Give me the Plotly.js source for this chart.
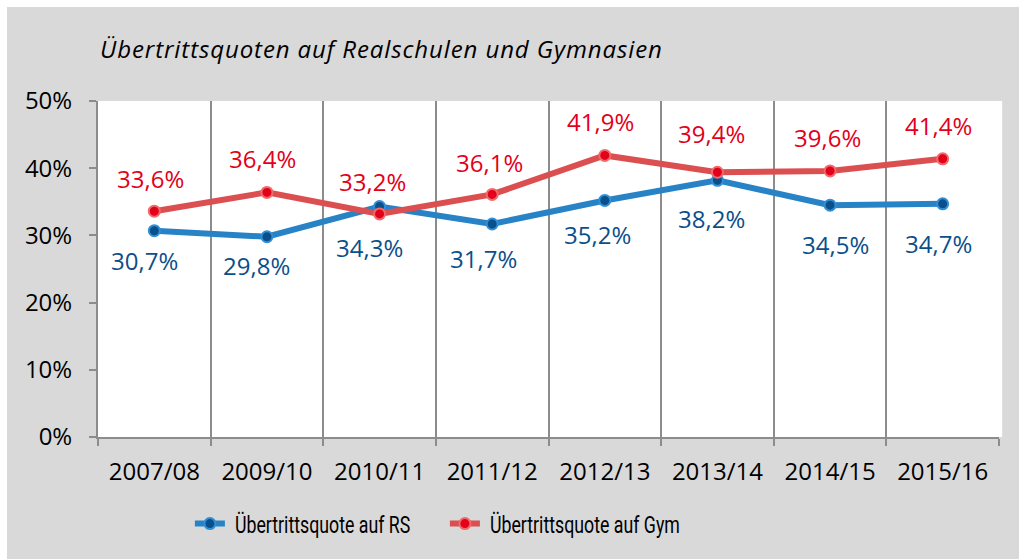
<!DOCTYPE html>
<html>
<head>
<meta charset="utf-8">
<script src="https://cdn.plot.ly/plotly-3.0.1.min.js"></script>
<style>
  html, body { margin: 0; padding: 0; background: #ffffff; }
  #chart { position: absolute; left: 7px; top: 7px; width: 1012px; height: 552px; }
  #chart .gtitle { letter-spacing: 0.9px; }
  #chart .legendtext { transform-box: fill-box; transform-origin: 0% 50%; transform: translateX(5px) scaleX(0.74); }
</style>
</head>
<body>
<div id="chart"></div>
<script>
const categories = ["2007/08", "2009/10", "2010/11", "2011/12", "2012/13", "2013/14", "2014/15", "2015/16"];
const quoteRS = [30.7, 29.8, 34.3, 31.7, 35.2, 38.2, 34.5, 34.7];
const quoteGym = [33.6, 36.4, 33.2, 36.1, 41.9, 39.4, 39.6, 41.4];
const seriesNames = ["Übertrittsquote auf RS", "Übertrittsquote auf Gym"];
const yTickValues = [0, 10, 20, 30, 40, 50];
const yTickLabels = ["0%", "10%", "20%", "30%", "40%", "50%"];
const chartTitle = "Übertrittsquoten auf Realschulen und Gymnasien";

// label placement (style, px offsets from each point)
const gymLabelDy = [33, 34, 32, 32, 34, 39, 33, 33];
const gymLabelDx = [-4, -4, -7, -3, -4, -6, -3, -4];
const rsLabelDy = [-30, -29, -41, -35, -34, -38, -39, -40];
const rsLabelDx = [-10, -10, -10, -9, -7, -6, 5, -4];

const fmt = v => v.toFixed(1).replace('.', ',') + '%';
const labelFont = "Open Sans, Noto Sans, sans-serif";

const traces = [
  {
    x: categories, y: quoteRS, name: seriesNames[0], type: 'scatter', mode: 'lines+markers',
    line: { color: '#2783c6', width: 6 },
    marker: { color: '#0b4f8a', size: 11, line: { color: '#2f8fd8', width: 2 } },
    hoverinfo: 'skip'
  },
  {
    x: categories, y: quoteGym, name: seriesNames[1], type: 'scatter', mode: 'lines+markers',
    line: { color: '#dc4f51', width: 6 },
    marker: { color: '#e2001a', size: 11, line: { color: '#f06a6a', width: 2 } },
    hoverinfo: 'skip'
  }
];

const annotations = [];
categories.forEach((c, i) => {
  annotations.push({
    x: c, y: quoteGym[i], xref: 'x', yref: 'y', text: fmt(quoteGym[i]), showarrow: false,
    xshift: gymLabelDx[i], yshift: gymLabelDy[i],
    font: { family: labelFont, size: 24, color: '#e2001a' }
  });
  annotations.push({
    x: c, y: quoteRS[i], xref: 'x', yref: 'y', text: fmt(quoteRS[i]), showarrow: false,
    xshift: rsLabelDx[i], yshift: rsLabelDy[i],
    font: { family: labelFont, size: 24, color: '#0b4f8a' }
  });
});

const layout = {
  width: 1012, height: 552,
  paper_bgcolor: '#d9d9d9', plot_bgcolor: '#ffffff',
  margin: { l: 91, r: 20, t: 94, b: 122 },
  title: {
    text: chartTitle, xref: 'container', yref: 'container',
    x: 93 / 1012, xanchor: 'left', y: 1 - 43 / 552, yanchor: 'middle',
    font: { family: 'Open Sans, sans-serif', size: 24, color: '#000000', style: 'italic', weight: 400 }
  },
  xaxis: {
    type: 'category', range: [-0.5, 7.5], tickson: 'boundaries',
    showgrid: true, gridcolor: '#8c8c8c', gridwidth: 2,
    showline: true, linecolor: '#8c8c8c', linewidth: 2,
    ticks: 'outside', ticklen: 7, tickcolor: '#8c8c8c', tickwidth: 2,
    ticklabelstandoff: 12,
    tickfont: { family: labelFont, size: 24, color: '#000000' },
    fixedrange: true, zeroline: false
  },
  yaxis: {
    range: [0, 50], tickvals: yTickValues, ticktext: yTickLabels,
    showgrid: false, zeroline: false,
    showline: true, linecolor: '#8c8c8c', linewidth: 2,
    ticks: 'outside', ticklen: 7, tickcolor: '#8c8c8c', tickwidth: 2,
    ticklabelstandoff: 12,
    tickfont: { family: labelFont, size: 24, color: '#000000' },
    fixedrange: true
  },
  legend: {
    orientation: 'h', x: 0.102, xanchor: 'left', y: -0.259, yanchor: 'middle',
    bgcolor: 'rgba(0,0,0,0)', entrywidth: 210,
    font: { family: 'Roboto, sans-serif', size: 24, color: '#000000' }
  },
  shapes: [
    { type: 'rect', xref: 'paper', yref: 'paper', x0: 1, x1: 1.0035, y0: 0, y1: 1,
      fillcolor: '#ffffff', line: { width: 0 }, layer: 'below' }
  ],
  annotations: annotations,
  showlegend: true
};

Plotly.newPlot('chart', traces, layout, { displayModeBar: false, staticPlot: true });
</script>
</body>
</html>
